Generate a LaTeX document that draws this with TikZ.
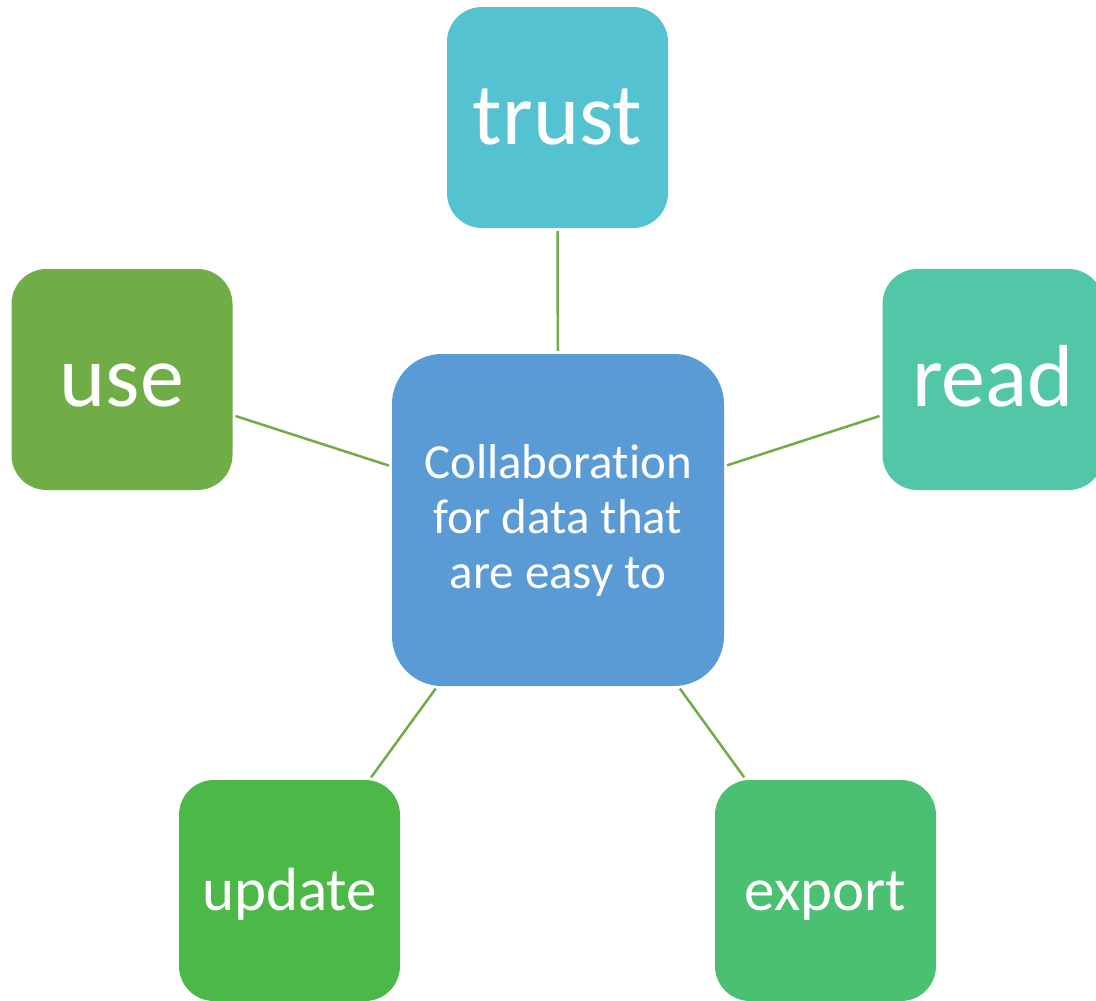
\documentclass[tikz,border=0pt]{standalone}
\usepackage{fontspec}
\setmainfont{Carlito}[Ligatures=NoCommon]
\definecolor{ctrust}{HTML}{54C2D0}
\definecolor{cread}{HTML}{51C7A8}
\definecolor{cuse}{HTML}{70AD47}
\definecolor{ccenter}{HTML}{5B9BD5}
\definecolor{cupdate}{HTML}{4BB848}
\definecolor{cexport}{HTML}{4CC072}
\definecolor{cline}{HTML}{70AD47}
\begin{document}
\begin{tikzpicture}[x=1pt,y=-1pt,
  leaf/.style={rectangle, rounded corners=35pt, minimum width=221pt, minimum height=221pt, inner sep=0pt, text=white},
  hub/.style={rectangle, rounded corners=50pt, minimum width=332pt, minimum height=332pt, inner sep=0pt, text=white, fill=ccenter, align=center, font=\fontsize{49}{55}\selectfont},
  big/.style={font=\fontsize{88}{100}\selectfont, text height=60pt, text depth=6pt},
  small/.style={font=\fontsize{61}{70}\selectfont, text height=42pt, text depth=3pt},
  conn/.style={draw=cline, line width=2.5pt, shorten <=3pt, shorten >=3pt}]
\useasboundingbox (0,0) rectangle (1096,1001);
\clip (0,0) rectangle (1096,1001);
\node[hub] (c) at (558,520) {Collaboration\\for data that\\are easy to};
\node[leaf, fill=ctrust, big] (trust) at (557.5,117.5) {trust};
\node[leaf, fill=cuse, big] (use) at (122,379.5) {use};
\node[leaf, fill=cread, big] (read) at (993,379.5) {read};
\node[leaf, fill=cupdate, small] (update) at (289.5,890.5) {update};
\node[leaf, fill=cexport, small] (export) at (825.5,890.5) {export};
\draw[conn] (c) -- (trust);
\draw[conn] (c) -- (use);
\draw[conn] (c) -- (read);
\draw[conn] (c) -- (update);
\draw[conn] (c) -- (export);
\end{tikzpicture}
\end{document}
